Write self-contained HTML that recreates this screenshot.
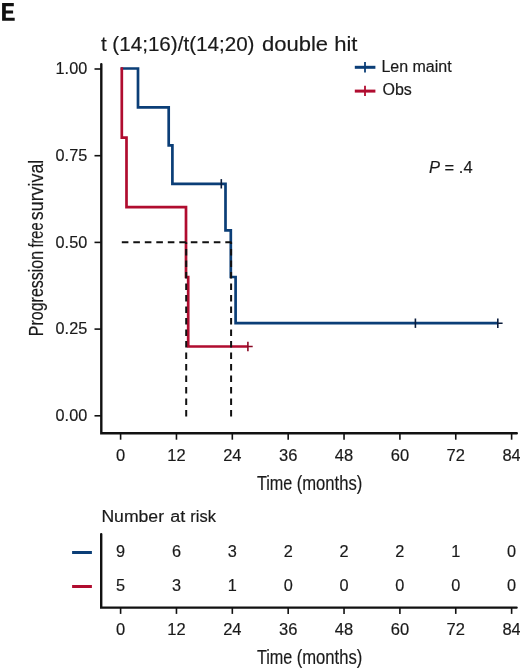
<!DOCTYPE html><html><head><meta charset="utf-8"><style>html,body{margin:0;padding:0;background:#fff;}svg{display:block;will-change:transform;}text{font-family:"Liberation Sans", sans-serif;fill:#1a1a1a;stroke:#1a1a1a;stroke-width:0.18px;}</style></head><body>
<svg width="520" height="669" viewBox="0 0 520 669">
<rect width="520" height="669" fill="#fff"/>
<path d="M2.1 3.1 H13.8 V6.3 H5.8 V10.4 H13.1 V13.5 H5.8 V17.7 H14.7 V20.8 H2.1 Z" fill="#111"/>
<text x="100.9" y="50.8" font-size="20" textLength="153.6" lengthAdjust="spacingAndGlyphs">t (14;16)/t(14;20)</text>
<text x="261.9" y="50.8" font-size="20" textLength="95.6" lengthAdjust="spacingAndGlyphs">double hit</text>
<path d="M101.3 64.1 V433.3 H516.8" stroke="#111" stroke-width="2.4" fill="none" stroke-linecap="round" stroke-linejoin="miter"/>
<path d="M94.5 69.00 H101.5" stroke="#111" stroke-width="1.6"/>
<text x="55.6" y="74.20" font-size="16.5" textLength="31.6" lengthAdjust="spacingAndGlyphs">1.00</text>
<path d="M94.5 155.70 H101.5" stroke="#111" stroke-width="1.6"/>
<text x="55.6" y="160.90" font-size="16.5" textLength="31.6" lengthAdjust="spacingAndGlyphs">0.75</text>
<path d="M94.5 242.40 H101.5" stroke="#111" stroke-width="1.6"/>
<text x="55.6" y="247.60" font-size="16.5" textLength="31.6" lengthAdjust="spacingAndGlyphs">0.50</text>
<path d="M94.5 329.10 H101.5" stroke="#111" stroke-width="1.6"/>
<text x="55.6" y="334.30" font-size="16.5" textLength="31.6" lengthAdjust="spacingAndGlyphs">0.25</text>
<path d="M94.5 415.80 H101.5" stroke="#111" stroke-width="1.6"/>
<text x="55.6" y="421.00" font-size="16.5" textLength="31.6" lengthAdjust="spacingAndGlyphs">0.00</text>
<path d="M120.60 433.4 V439.7" stroke="#111" stroke-width="1.6"/>
<text x="120.60" y="460.8" font-size="16.5" text-anchor="middle">0</text>
<path d="M176.46 433.4 V439.7" stroke="#111" stroke-width="1.6"/>
<text x="176.46" y="460.8" font-size="16.5" text-anchor="middle">12</text>
<path d="M232.32 433.4 V439.7" stroke="#111" stroke-width="1.6"/>
<text x="232.32" y="460.8" font-size="16.5" text-anchor="middle">24</text>
<path d="M288.18 433.4 V439.7" stroke="#111" stroke-width="1.6"/>
<text x="288.18" y="460.8" font-size="16.5" text-anchor="middle">36</text>
<path d="M344.04 433.4 V439.7" stroke="#111" stroke-width="1.6"/>
<text x="344.04" y="460.8" font-size="16.5" text-anchor="middle">48</text>
<path d="M399.90 433.4 V439.7" stroke="#111" stroke-width="1.6"/>
<text x="399.90" y="460.8" font-size="16.5" text-anchor="middle">60</text>
<path d="M455.76 433.4 V439.7" stroke="#111" stroke-width="1.6"/>
<text x="455.76" y="460.8" font-size="16.5" text-anchor="middle">72</text>
<path d="M511.62 433.4 V439.7" stroke="#111" stroke-width="1.6"/>
<text x="511.62" y="460.8" font-size="16.5" text-anchor="middle">84</text>
<text x="256.9" y="489.5" font-size="20.6" textLength="35.4" lengthAdjust="spacingAndGlyphs">Time</text>
<text x="296.7" y="489.5" font-size="20.6" textLength="65.6" lengthAdjust="spacingAndGlyphs">(months)</text>
<text x="256.9" y="663.7" font-size="20.6" textLength="35.4" lengthAdjust="spacingAndGlyphs">Time</text>
<text x="296.7" y="663.7" font-size="20.6" textLength="65.6" lengthAdjust="spacingAndGlyphs">(months)</text>
<text transform="translate(42.7 336.20) rotate(-90)" x="0" y="0" font-size="20.3" textLength="85.30" lengthAdjust="spacingAndGlyphs">Progression</text>
<text transform="translate(42.7 247.60) rotate(-90)" x="0" y="0" font-size="20.3" textLength="25.30" lengthAdjust="spacingAndGlyphs">free</text>
<text transform="translate(42.7 220.20) rotate(-90)" x="0" y="0" font-size="20.3" textLength="60.50" lengthAdjust="spacingAndGlyphs">survival</text>
<path d="M120.60 68.50 H138.00 V107.30 H168.70 V145.30 H172.40 V183.80 H225.50 V230.40 H230.80 V277.00 H235.60 V323.20 H497.80" stroke="#0b3e77" stroke-width="2.7" fill="none" stroke-linejoin="miter" stroke-linecap="butt"/>
<path d="M120.60 68.50 H121.80 V137.70 H126.50 V207.20 H186.00 V277.00 H188.20 V346.50 H247.90" stroke="#b00c2f" stroke-width="2.7" fill="none" stroke-linejoin="miter" stroke-linecap="butt"/>
<path d="M221.30 179.10 v9.4" stroke="#0a1c3c" stroke-width="1.6"/>
<path d="M415.40 318.50 v9.4" stroke="#0a1c3c" stroke-width="1.6"/>
<path d="M497.80 318.50 v9.4 M497.80 323.20 h4.8" stroke="#0a1c3c" stroke-width="1.6"/>
<path d="M247.90 341.80 v9.4 M247.90 346.50 h4.8" stroke="#8a0a25" stroke-width="1.6"/>
<path d="M121.8 242.20 H231.5" stroke="#111" stroke-width="2" stroke-dasharray="6.6 4.9"/>
<path d="M186.2 416.5 V242.20 M231.1 416.5 V242.20" stroke="#111" stroke-width="2" stroke-dasharray="6.6 4.9"/>
<path d="M354.8 67.3 H375.4" stroke="#0b3e77" stroke-width="3"/>
<path d="M365 62 V72.5" stroke="#0b3e77" stroke-width="1.8"/>
<path d="M354.8 91.1 H375.4" stroke="#b00c2f" stroke-width="3"/>
<path d="M365 85.7 V96" stroke="#b00c2f" stroke-width="1.8"/>
<text x="381.4" y="71.7" font-size="16">Len maint</text>
<text x="382.5" y="94.8" font-size="16">Obs</text>
<text x="429" y="173.4" font-size="16.5"><tspan font-style="italic">P</tspan> = .4</text>
<text x="101.40" y="521.8" font-size="16" textLength="62.60" lengthAdjust="spacingAndGlyphs">Number</text>
<text x="170.30" y="521.8" font-size="16" textLength="15.00" lengthAdjust="spacingAndGlyphs">at</text>
<text x="190.30" y="521.8" font-size="16" textLength="25.60" lengthAdjust="spacingAndGlyphs">risk</text>
<path d="M101.2 534.1 V607.6 H516.6" stroke="#111" stroke-width="2.4" fill="none" stroke-linecap="round" stroke-linejoin="miter"/>
<text x="120.60" y="557.3" font-size="16.3" text-anchor="middle">9</text>
<text x="120.60" y="591.3" font-size="16.3" text-anchor="middle">5</text>
<path d="M120.60 607.6 V613.9" stroke="#111" stroke-width="1.6"/>
<text x="120.60" y="635" font-size="16.5" text-anchor="middle">0</text>
<text x="176.46" y="557.3" font-size="16.3" text-anchor="middle">6</text>
<text x="176.46" y="591.3" font-size="16.3" text-anchor="middle">3</text>
<path d="M176.46 607.6 V613.9" stroke="#111" stroke-width="1.6"/>
<text x="176.46" y="635" font-size="16.5" text-anchor="middle">12</text>
<text x="232.32" y="557.3" font-size="16.3" text-anchor="middle">3</text>
<text x="232.32" y="591.3" font-size="16.3" text-anchor="middle">1</text>
<path d="M232.32 607.6 V613.9" stroke="#111" stroke-width="1.6"/>
<text x="232.32" y="635" font-size="16.5" text-anchor="middle">24</text>
<text x="288.18" y="557.3" font-size="16.3" text-anchor="middle">2</text>
<text x="288.18" y="591.3" font-size="16.3" text-anchor="middle">0</text>
<path d="M288.18 607.6 V613.9" stroke="#111" stroke-width="1.6"/>
<text x="288.18" y="635" font-size="16.5" text-anchor="middle">36</text>
<text x="344.04" y="557.3" font-size="16.3" text-anchor="middle">2</text>
<text x="344.04" y="591.3" font-size="16.3" text-anchor="middle">0</text>
<path d="M344.04 607.6 V613.9" stroke="#111" stroke-width="1.6"/>
<text x="344.04" y="635" font-size="16.5" text-anchor="middle">48</text>
<text x="399.90" y="557.3" font-size="16.3" text-anchor="middle">2</text>
<text x="399.90" y="591.3" font-size="16.3" text-anchor="middle">0</text>
<path d="M399.90 607.6 V613.9" stroke="#111" stroke-width="1.6"/>
<text x="399.90" y="635" font-size="16.5" text-anchor="middle">60</text>
<text x="455.76" y="557.3" font-size="16.3" text-anchor="middle">1</text>
<text x="455.76" y="591.3" font-size="16.3" text-anchor="middle">0</text>
<path d="M455.76 607.6 V613.9" stroke="#111" stroke-width="1.6"/>
<text x="455.76" y="635" font-size="16.5" text-anchor="middle">72</text>
<text x="511.62" y="557.3" font-size="16.3" text-anchor="middle">0</text>
<text x="511.62" y="591.3" font-size="16.3" text-anchor="middle">0</text>
<path d="M511.62 607.6 V613.9" stroke="#111" stroke-width="1.6"/>
<text x="511.62" y="635" font-size="16.5" text-anchor="middle">84</text>
<path d="M72.1 552.5 H91.9" stroke="#0b3e77" stroke-width="3"/>
<path d="M72.1 586.5 H91.9" stroke="#b00c2f" stroke-width="3"/>
</svg></body></html>
